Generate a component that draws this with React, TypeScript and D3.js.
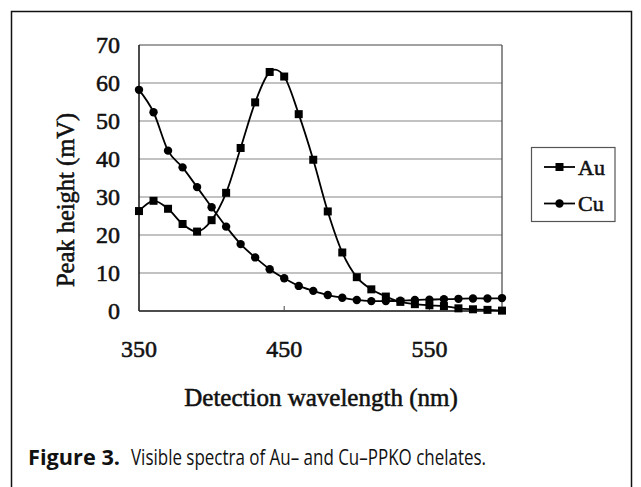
import React from "react";
import * as d3 from "d3";

const wavelengths = [350, 360, 370, 380, 390, 400, 410, 420, 430, 440, 450, 460, 470, 480, 490, 500, 510, 520, 530, 540, 550, 560, 570, 580, 590, 600];
const auValues = [26.3, 29.0, 26.9, 22.9, 20.9, 23.9, 31.1, 42.9, 54.9, 62.9, 61.7, 51.8, 39.8, 26.2, 15.4, 8.9, 5.7, 3.8, 2.4, 1.8, 1.5, 1.3, 0.7, 0.45, 0.3, 0.1];
const cuValues = [58.2, 52.3, 42.2, 37.8, 32.6, 27.3, 22.2, 17.6, 14.1, 11.0, 8.6, 6.6, 5.3, 4.2, 3.5, 2.9, 2.6, 2.6, 2.7, 2.9, 3.0, 3.1, 3.2, 3.3, 3.3, 3.4];
const yTicks = [0, 10, 20, 30, 40, 50, 60, 70];
const xTicks = [350, 450, 550];
const seriesNames = ["Au", "Cu"];
const xTitle = "Detection wavelength (nm)";
const yTitle = "Peak height (mV)";
const captionBold = "Figure 3.";
const captionRest = "Visible spectra of Au\u2013 and Cu\u2013PPKO chelates.";

const SERIF = "'Liberation Serif', 'Times New Roman', serif";
const SANS = "'Liberation Sans Narrow', 'Open Sans', 'Noto Sans', sans-serif";
const serifStyle = { fontFamily: SERIF, fill: "#111", stroke: "#111", strokeWidth: 0.55 } as const;

export default function App() {
  const left = 139, right = 502, top = 45, bottom = 311;
  const x = d3.scaleLinear().domain([350, 600]).range([left, right]);
  const y = d3.scaleLinear().domain([0, 70]).range([bottom, top]);
  const line = d3
    .line<[number, number]>()
    .x((d) => x(d[0]))
    .y((d) => y(d[1]))
    .curve(d3.curveCatmullRom.alpha(0));
  const au: [number, number][] = wavelengths.map((w, i) => [w, auValues[i]]);
  const cu: [number, number][] = wavelengths.map((w, i) => [w, cuValues[i]]);
  const sq = 8;

  return (
    <svg
      width={641}
      height={487}
      style={{ position: "absolute", left: 0, top: 0, background: "#fff" }}
    >
      <rect x={0} y={0} width={641} height={487} fill="#fff" />
      {/* outer frame */}
      <path d="M11.5,495 V11.5 H631.5 V495" fill="none" stroke="#111" strokeWidth={1.5} />

      {/* gridlines */}
      {yTicks.filter((t) => t > 0 && t < 70).map((t) => (
        <line key={t} x1={left} x2={right} y1={y(t)} y2={y(t)} stroke="#858585" strokeWidth={1.2} />
      ))}
      {/* plot border */}
      <line x1={left} x2={right} y1={top} y2={top} stroke="#444" strokeWidth={1.2} />
      <line x1={right} x2={right} y1={top} y2={bottom} stroke="#444" strokeWidth={1.2} />
      <line x1={left} x2={left} y1={top} y2={bottom} stroke="#111" strokeWidth={1.5} />
      <line x1={left} x2={right} y1={bottom} y2={bottom} stroke="#111" strokeWidth={1.5} />
      {xTicks.map((t) => (
        <line key={t} x1={x(t)} x2={x(t)} y1={bottom} y2={bottom - 5} stroke="#444" strokeWidth={1} />
      ))}

      {/* y tick labels */}
      {yTicks.map((t) => (
        <text key={t} x={120} y={y(t) + 8} textAnchor="end" fontSize={24} style={serifStyle}>
          {t}
        </text>
      ))}
      {/* x tick labels */}
      {xTicks.map((t) => (
        <text key={t} x={x(t)} y={357} textAnchor="middle" fontSize={24} style={serifStyle}>
          {t}
        </text>
      ))}

      {/* series */}
      <path d={line(au) || ""} fill="none" stroke="#000" strokeWidth={1.8} />
      <path d={line(cu) || ""} fill="none" stroke="#000" strokeWidth={1.8} />
      {au.map((d, i) => (
        <rect key={"a" + i} x={x(d[0]) - sq / 2} y={y(d[1]) - sq / 2} width={sq} height={sq} fill="#000" />
      ))}
      {cu.map((d, i) => (
        <circle key={"c" + i} cx={x(d[0])} cy={y(d[1])} r={4.2} fill="#000" />
      ))}

      {/* axis titles */}
      <text x={321} y={406} textAnchor="middle" fontSize={25} style={serifStyle}>
        {xTitle}
      </text>
      <text
        transform={`translate(74,200) rotate(-90)`}
        textAnchor="middle"
        fontSize={24.5}
        style={serifStyle}
      >
        {yTitle}
      </text>

      {/* legend */}
      <rect x={531.5} y={147.5} width={83.5} height={74} fill="#fff" stroke="#555" strokeWidth={1.2} />
      <line x1={544} x2={575} y1={167} y2={167} stroke="#000" strokeWidth={1.8} />
      <rect x={559.5 - sq / 2} y={167 - sq / 2} width={sq} height={sq} fill="#000" />
      <text x={578} y={174.5} fontSize={22} style={serifStyle}>{seriesNames[0]}</text>
      <line x1={544} x2={575} y1={203.5} y2={203.5} stroke="#000" strokeWidth={1.8} />
      <circle cx={559.5} cy={203.5} r={4.2} fill="#000" />
      <text x={578} y={211} fontSize={22} style={serifStyle}>{seriesNames[1]}</text>

      {/* caption */}
      <text x={28} y={465} fontFamily={SANS} fontSize={21} fontWeight="bold" fill="#111" textLength={92} lengthAdjust="spacingAndGlyphs">
        {captionBold}
      </text>
      <text x={131} y={465} fontFamily={SANS} fontSize={21} fill="#111" textLength={355} lengthAdjust="spacingAndGlyphs">
        {captionRest}
      </text>
    </svg>
  );
}
